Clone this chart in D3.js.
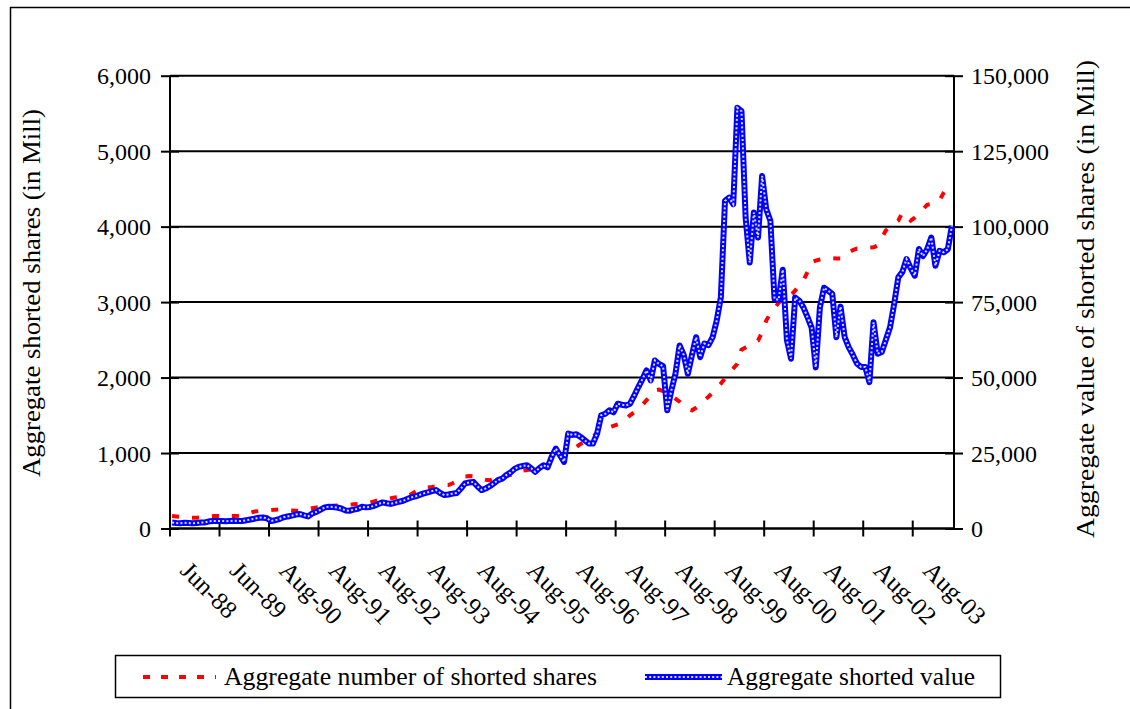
<!DOCTYPE html>
<html>
<head>
<meta charset="utf-8">
<script src="https://cdn.jsdelivr.net/npm/d3@7"></script>
<style>
  body { margin: 0; background: #fff; }
  text { font-family: "Liberation Serif", "Times New Roman", Times, serif; fill: #000; }
</style>
</head>
<body>
<div id="chart"></div>
<script>
// x axis labels, one every 12 monthly observations (first obs = Jun-88)
var tickLabels = ["Jun-88", "Jun-89", "Aug-90", "Aug-91", "Aug-92", "Aug-93", "Aug-94", "Aug-95",
  "Aug-96", "Aug-97", "Aug-98", "Aug-99", "Aug-00", "Aug-01", "Aug-02", "Aug-03"];
var leftTicks = [0, 1000, 2000, 3000, 4000, 5000, 6000];
var rightTicks = [0, 25000, 50000, 75000, 100000, 125000, 150000];

// Aggregate number of shorted shares (in Mill), left axis
var shortedShares = [
  165, 160, 155, 150, 145, 143, 143, 148, 155, 160,
  165, 165, 163, 164, 165, 165, 168, 175, 190, 210,
  225, 231, 235, 240, 245, 250, 253, 250, 245, 240,
  236, 235, 245, 258, 270, 280, 288, 290, 295, 300,
  305, 310, 312, 315, 320, 325, 328, 330, 345, 360,
  375, 385, 390, 400, 410, 420, 425, 430, 455, 490,
  520, 540, 544, 550, 560, 570, 575, 575, 600, 630,
  660, 690, 694, 690, 670, 655, 645, 641, 655, 675,
  690, 700, 707, 730, 750, 765, 775, 782, 795, 810,
  820, 830, 840, 870, 900, 950, 1000, 1040, 1080, 1120,
  1147, 1180, 1220, 1260, 1290, 1320, 1340, 1360, 1380, 1400,
  1450, 1500, 1540, 1580, 1640, 1700, 1760, 1830, 1840, 1820,
  1790, 1764, 1720, 1680, 1620, 1580, 1566, 1600, 1640, 1700,
  1746, 1800, 1860, 1920, 1990, 2060, 2120, 2183, 2370, 2400,
  2430, 2460, 2490, 2600, 2755, 2850, 2920, 2990, 3040, 3070,
  3095, 3150, 3220, 3284, 3400, 3530, 3550, 3565, 3575, 3580,
  3580, 3578, 3577, 3620, 3660, 3690, 3710, 3715, 3720, 3722,
  3725, 3750, 3850, 3950, 3990, 4040, 4080, 4187, 4130, 4080,
  4120, 4170, 4230, 4290, 4300, 4320, 4350, 4450, 4530, 4560
];

// Aggregate value of shorted shares (in Mill), right axis
var shortedValue = [
  2000, 1800, 1750, 1875, 1800, 1750, 1850, 1950, 2000, 2375,
  2500, 2450, 2500, 2425, 2500, 2550, 2475, 2500, 2750, 3000,
  3250, 3575, 3625, 3375, 2475, 2750, 3125, 3700, 4000, 4250,
  4625, 4800, 4375, 4000, 5000, 5550, 6250, 7000, 7200, 7125,
  6950, 6625, 6000, 5875, 6250, 6500, 7200, 7000, 7150, 7500,
  8125, 8650, 8375, 8150, 8500, 8875, 9175, 9750, 10300, 10625,
  11125, 11625, 12000, 12375, 12725, 11750, 11075, 11250, 11550, 11750,
  13250, 14925, 15250, 15450, 14000, 12725, 13250, 14000, 15000, 16025,
  16500, 17675, 18500, 19750, 20425, 20750, 20975, 20000, 18750, 20000,
  20975, 20250, 23725, 26500, 24275, 22075, 31450, 31000, 31250, 30325,
  29250, 28150, 28150, 31450, 37500, 38000, 39150, 38500, 41350, 41000,
  40750, 41350, 44000, 46850, 49500, 52375, 49050, 55675, 54500, 53750,
  39150, 45750, 51275, 60625, 57500, 51250, 57500, 63375, 56750, 61250,
  60750, 63375, 68875, 76575, 108525, 109625, 107425, 139350, 138250, 103000,
  88150, 104675, 96400, 116775, 105750, 101925, 76050, 75750, 85750, 62500,
  56250, 76500, 75500, 73250, 70000, 66500, 53375, 73250, 79750, 78750,
  77750, 63375, 73500, 63375, 60000, 57500, 54575, 53500, 53500, 48500,
  68325, 57900, 58500, 62500, 66675, 74400, 83200, 85000, 89275, 86250,
  83750, 92575, 90250, 92500, 96400, 87050, 92000, 91500, 92500, 100250
];

var width = 1130;
var height = 709;
var plotLeft = 170, plotRight = 954, plotTop = 75.7, plotBottom = 528.5;

var svg = d3.select("#chart")
  .append("svg")
  .attr("width", width)
  .attr("height", height);

// outer chart frame (only left and top edge are inside the picture)
svg.append("path")
  .attr("d", "M10.5,709 L10.5,7.5 L1130,7.5")
  .attr("fill", "none")
  .attr("stroke", "#000")
  .attr("stroke-width", 1.5);

var n = shortedValue.length;
var x = d3.scaleBand()
  .domain(d3.range(n))
  .range([plotLeft, plotRight])
  .padding(0);
var cx = function(i) { return x(i) + x.bandwidth() / 2; };

var yLeft = d3.scaleLinear().domain([0, 6000]).range([plotBottom, plotTop]);
var yRight = d3.scaleLinear().domain([0, 150000]).range([plotBottom, plotTop]);

// gridlines
svg.append("g")
  .selectAll("line")
  .data(leftTicks)
  .enter().append("line")
  .attr("x1", plotLeft)
  .attr("x2", plotRight)
  .attr("y1", function(d) { return yLeft(d); })
  .attr("y2", function(d) { return yLeft(d); })
  .attr("stroke", "#000")
  .attr("stroke-width", 2);

// left axis
var leftAxis = svg.append("g")
  .attr("transform", "translate(" + plotLeft + ",0)")
  .call(d3.axisLeft(yLeft).tickValues(leftTicks).tickFormat(d3.format(",")).tickSize(9).tickPadding(10));
leftAxis.selectAll(".tick line").attr("x2", -9).attr("x1", 9).attr("stroke-width", 2);

// right axis
var rightAxis = svg.append("g")
  .attr("transform", "translate(" + plotRight + ",0)")
  .call(d3.axisRight(yRight).tickValues(rightTicks).tickFormat(d3.format(",")).tickSize(9).tickPadding(8));
rightAxis.selectAll(".tick line").attr("x1", -9).attr("stroke-width", 2);

[leftAxis, rightAxis].forEach(function(g) {
  g.select(".domain").remove();
  g.attr("font-family", null);
  g.selectAll("text").style("font-size", "24px").attr("dy", "0.34em");
  g.append("line").attr("y1", plotTop).attr("y2", plotBottom).attr("stroke", "#000").attr("stroke-width", 2);
});

// x axis: tick marks between categories, every 12 months
var xTickIdx = d3.range(0, n, 12);
svg.append("line")
  .attr("x1", plotLeft).attr("x2", plotRight)
  .attr("y1", plotBottom).attr("y2", plotBottom)
  .attr("stroke", "#000").attr("stroke-width", 2);
svg.append("g")
  .selectAll("line")
  .data(xTickIdx)
  .enter().append("line")
  .attr("x1", function(d) { return x(d); })
  .attr("x2", function(d) { return x(d); })
  .attr("y1", plotBottom - 8)
  .attr("y2", plotBottom + 8)
  .attr("stroke", "#000")
  .attr("stroke-width", 2);

svg.append("g")
  .selectAll("text")
  .data(tickLabels)
  .enter().append("text")
  .attr("transform", function(d, i) {
    return "translate(" + (cx(i * 12) + 7) + ",572) rotate(45)";
  })
  .style("font-size", "25px")
  .text(function(d) { return d; });

// series lines
var sharesLine = d3.line()
  .x(function(d, i) { return cx(i); })
  .y(function(d) { return yLeft(d); });
var valueLine = d3.line()
  .x(function(d, i) { return cx(i); })
  .y(function(d) { return yRight(d); });

svg.append("path")
  .datum(shortedShares)
  .attr("d", sharesLine)
  .attr("fill", "none")
  .attr("stroke", "#ff0000")
  .attr("stroke-width", 4)
  .attr("stroke-dasharray", "7,13");

svg.append("path")
  .datum(shortedValue)
  .attr("d", valueLine)
  .attr("fill", "none")
  .attr("stroke", "#0000ff")
  .attr("stroke-width", 6)
  .attr("stroke-linejoin", "round");
// white dotted pattern inside the blue line
svg.append("path")
  .datum(shortedValue)
  .attr("d", valueLine)
  .attr("fill", "none")
  .attr("stroke", "#ffffff")
  .attr("stroke-opacity", 0.85)
  .attr("stroke-width", 2)
  .attr("stroke-dasharray", "2,2.2");

// axis titles
svg.append("text")
  .attr("transform", "translate(40,293) rotate(-90)")
  .attr("text-anchor", "middle")
  .style("font-size", "25px")
  .attr("textLength", 368)
  .attr("lengthAdjust", "spacingAndGlyphs")
  .text("Aggregate shorted shares (in Mill)");

svg.append("text")
  .attr("transform", "translate(1094,299) rotate(-90)")
  .attr("text-anchor", "middle")
  .style("font-size", "25px")
  .attr("textLength", 478)
  .attr("lengthAdjust", "spacingAndGlyphs")
  .text("Aggregate value of shorted shares (in Mill)");

// legend
var legend = svg.append("g");
legend.append("rect")
  .attr("x", 115.5).attr("y", 655.5)
  .attr("width", 885).attr("height", 42)
  .attr("fill", "#fff")
  .attr("stroke", "#000")
  .attr("stroke-width", 1.5);
legend.append("line")
  .attr("x1", 143).attr("x2", 216)
  .attr("y1", 677).attr("y2", 677)
  .attr("stroke", "#ff0000")
  .attr("stroke-width", 4)
  .attr("stroke-dasharray", "7,11");
legend.append("text")
  .attr("x", 224).attr("y", 685)
  .style("font-size", "25px")
  .attr("textLength", 373)
  .attr("lengthAdjust", "spacingAndGlyphs")
  .text("Aggregate number of shorted shares");
legend.append("line")
  .attr("x1", 645).attr("x2", 722)
  .attr("y1", 677).attr("y2", 677)
  .attr("stroke", "#0000ff")
  .attr("stroke-width", 6);
legend.append("line")
  .attr("x1", 645).attr("x2", 722)
  .attr("y1", 677).attr("y2", 677)
  .attr("stroke", "#ffffff")
  .attr("stroke-opacity", 0.85)
  .attr("stroke-width", 2)
  .attr("stroke-dasharray", "2,2.2");
legend.append("text")
  .attr("x", 727).attr("y", 685)
  .style("font-size", "25px")
  .attr("textLength", 248)
  .attr("lengthAdjust", "spacingAndGlyphs")
  .text("Aggregate shorted value");
</script>
</body>
</html>
